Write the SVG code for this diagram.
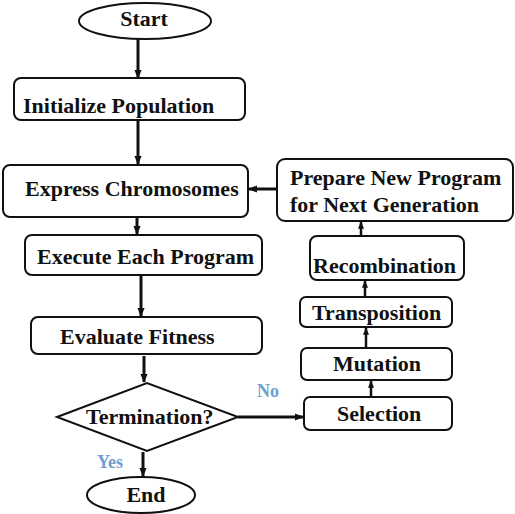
<svg xmlns="http://www.w3.org/2000/svg" width="515" height="514" viewBox="0 0 515 514">
<defs>
<marker id="ah" viewBox="0 0 10 10" refX="9" refY="5" markerWidth="3" markerHeight="3" orient="auto" markerUnits="strokeWidth">
<path d="M0,1 L10,5 L0,9 Z" fill="#111"/>
</marker>
</defs>
<style>
.box{fill:#fff;stroke:#111;stroke-width:2}
.t{font-family:"Liberation Serif","Times New Roman",serif;font-weight:bold;font-size:22px;fill:#111}
.lbl{font-family:"Liberation Serif","Times New Roman",serif;font-weight:bold;font-size:18px;fill:#6e9fd2}
.c{fill:none;stroke:#111;stroke-width:3;marker-end:url(#ah)}
.c2{fill:none;stroke:#111;stroke-width:2.5;marker-end:url(#ah)}
</style>
<rect width="515" height="514" fill="#fff"/>
<g id="connectors">
<line class="c" x1="138" y1="39" x2="138" y2="78"/>
<line class="c" x1="138" y1="120" x2="138" y2="164"/>
<line class="c" x1="137" y1="217" x2="137" y2="234"/>
<line class="c" x1="141" y1="275" x2="141" y2="316"/>
<line class="c" x1="144" y1="356" x2="144" y2="382"/>
<line class="c" x1="238" y1="417" x2="303" y2="417"/>
<line class="c" x1="143" y1="452" x2="143" y2="476"/>
<line class="c2" x1="371" y1="397" x2="371" y2="381"/>
<line class="c2" x1="366" y1="348" x2="366" y2="328"/>
<line class="c2" x1="365" y1="297" x2="365" y2="281"/>
<line class="c2" x1="361" y1="236" x2="361" y2="222"/>
<line class="c" x1="277" y1="189" x2="249" y2="189"/>
</g>
<g id="start">
<ellipse class="box" cx="145" cy="21" rx="66" ry="18"/>
<text class="t" x="144" y="26" text-anchor="middle">Start</text>
</g>
<g id="init">
<rect class="box" x="14" y="78" width="231" height="42" rx="7"/>
<text class="t" x="23" y="113">Initialize Population</text>
</g>
<g id="express">
<rect class="box" x="3" y="165" width="245" height="52" rx="7"/>
<text class="t" x="25" y="196">Express Chromosomes</text>
</g>
<g id="execute">
<rect class="box" x="25" y="235" width="237" height="40" rx="7"/>
<text class="t" x="37" y="264">Execute Each Program</text>
</g>
<g id="evaluate">
<rect class="box" x="31" y="317" width="231" height="37" rx="7"/>
<text class="t" x="60" y="344">Evaluate Fitness</text>
</g>
<g id="termination">
<polygon class="box" points="57,417 147,383 238,417 147,451"/>
<text class="t" x="86" y="424">Termination?</text>
</g>
<g id="end">
<ellipse class="box" cx="141" cy="495" rx="54" ry="18"/>
<text class="t" x="146" y="502" text-anchor="middle">End</text>
</g>
<g id="selection">
<rect class="box" x="304" y="397" width="148" height="33" rx="6"/>
<text class="t" x="337" y="421">Selection</text>
</g>
<g id="mutation">
<rect class="box" x="301" y="348" width="151" height="32" rx="6"/>
<text class="t" x="333" y="371">Mutation</text>
</g>
<g id="transposition">
<rect class="box" x="300" y="297" width="152" height="30" rx="6"/>
<text class="t" x="312" y="320">Transposition</text>
</g>
<g id="recombination">
<rect class="box" x="310" y="236" width="154" height="44" rx="7"/>
<text class="t" x="313" y="273">Recombination</text>
</g>
<g id="prepare">
<rect class="box" x="277" y="159" width="236" height="62" rx="8"/>
<text class="t" x="290" y="185">Prepare New Program</text>
<text class="t" x="290" y="212">for Next Generation</text>
</g>
<g id="labels">
<text class="lbl" x="257" y="397">No</text>
<text class="lbl" x="97" y="468">Yes</text>
</g>
</svg>
